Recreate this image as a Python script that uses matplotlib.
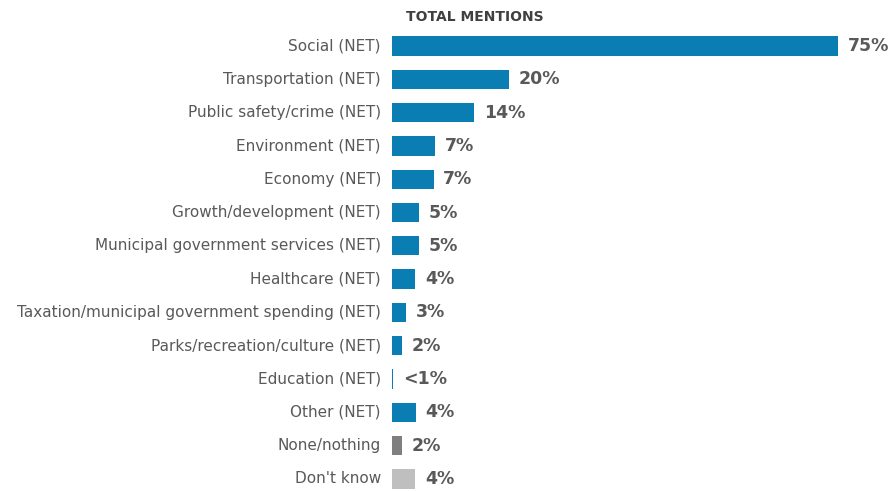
import matplotlib
matplotlib.use("Agg")
import matplotlib.pyplot as plt

categories = [
    "Social (NET)",
    "Transportation (NET)",
    "Public safety/crime (NET)",
    "Environment (NET)",
    "Economy (NET)",
    "Growth/development (NET)",
    "Municipal government services (NET)",
    "Healthcare (NET)",
    "Taxation/municipal government spending (NET)",
    "Parks/recreation/culture (NET)",
    "Education (NET)",
    "Other (NET)",
    "None/nothing",
    "Don't know",
]
values = [75, 19.7, 13.8, 7.2, 7.0, 4.6, 4.5, 3.9, 2.4, 1.6, 0.2, 4.0, 1.7, 3.9]
value_labels = ["75%", "20%", "14%", "7%", "7%", "5%", "5%", "4%", "3%", "2%",
                "<1%", "4%", "2%", "4%"]
bar_colors = ["#0A7DB2"] * 12 + ["#7F7F7F", "#BFBFBF"]
title = "TOTAL MENTIONS"

W, H = 892, 491
fig = plt.figure(figsize=(W / 100, H / 100), dpi=100)
left_px, right_px, top_px, bottom_px = 392, 892, 30, 491
ax = fig.add_axes([left_px / W, 1 - bottom_px / H, (right_px - left_px) / W,
                   (bottom_px - top_px) / H])

ypos = list(range(len(categories)))
ax.barh(ypos, values, height=0.58, color=bar_colors, edgecolor="none")

px_per_unit = 446 / 75.0
ax.set_xlim(0, (right_px - left_px) / px_per_unit)
row_px = 33.3
first_center = 46
ax.set_ylim((bottom_px - first_center) / row_px, (top_px - first_center) / row_px)

text_color = "#595959"
for y, v, lab in zip(ypos, values, value_labels):
    ax.annotate(lab, (v, y), xytext=(7, 0), textcoords="offset points",
                ha="left", va="center", fontsize=12.5, fontweight="bold",
                color=text_color)
    ax.annotate(categories[y], (0, y), xytext=(-8, 0), textcoords="offset points",
                ha="right", va="center", fontsize=11, color=text_color,
                annotation_clip=False)

ax.set_xticks([])
ax.set_yticks([])
for s in ax.spines.values():
    s.set_visible(False)

fig.text(475 / W, 1 - 17 / H, title, ha="center", va="center", fontsize=10,
         fontweight="bold", color="#404040")

fig.savefig("out.png", dpi=100)
